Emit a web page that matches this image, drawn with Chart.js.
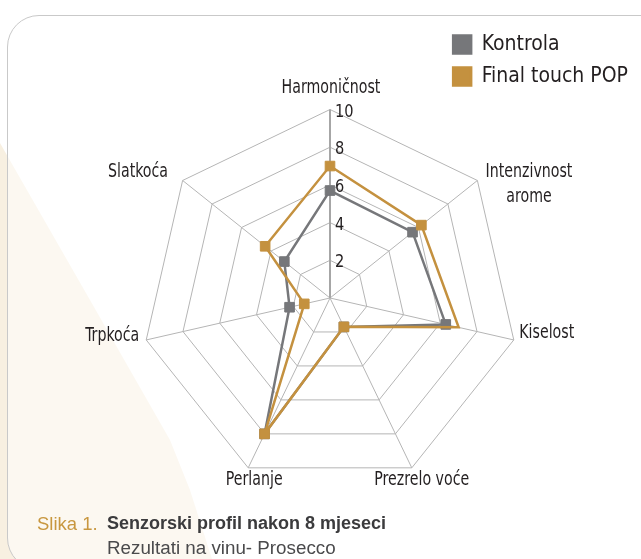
<!DOCTYPE html>
<html><head><meta charset="utf-8">
<script src="https://cdn.jsdelivr.net/npm/chart.js@4.4.0/dist/chart.umd.min.js"></script>
<style>
html,body{margin:0;padding:0;background:#fff;}
#wrap{position:relative;width:641px;height:559px;overflow:hidden;}
#beige{position:absolute;left:0;top:0;width:641px;height:559px;background:#f8f0e1;
  clip-path:polygon(0 143px,90px 300px,170px 440px,190px 490px,212px 559px,0 559px);}
#box{position:absolute;left:7px;top:15px;width:700px;height:555px;border:1.5px solid #c9c9c9;border-radius:32px;background:rgba(255,255,255,0.55);box-sizing:border-box;}
canvas{position:absolute;left:0;top:0;}
.cap{position:absolute;font-family:"Liberation Sans",Arial,sans-serif;font-size:18px;line-height:21px;white-space:nowrap;}
</style></head>
<body>
<div id="wrap">
  <div id="beige"></div>
  <div id="box"></div>
  <canvas id="c" width="641" height="559"></canvas>
  <span class="cap" style="left:37px;top:513px;color:#c8973f;font-size:18.5px;">Slika 1.</span>
  <span class="cap" style="left:107px;top:513px;color:#3b3b3d;font-weight:bold;">Senzorski profil nakon 8 mjeseci</span>
  <span class="cap" style="left:107px;top:537px;color:#4a4a4c;font-size:18.8px;">Rezultati na vinu- Prosecco</span>
</div>
<script>
const categories = ['Harmoničnost', ['Intenzivnost', 'arome'], 'Kiselost', 'Prezrelo voće', 'Perlanje', 'Trpkoća', 'Slatkoća'];
const seriesNames = ['Kontrola', 'Final touch POP'];
const kontrola = [5.7, 5.6, 6.3, 1.7, 8.0, 2.2, 3.1];
const finalTouchPop = [7.0, 6.2, 7.0, 1.7, 8.0, 1.4, 4.4];
const tickValues = [0, 2, 4, 6, 8, 10];

const FONT_NARROW = '"DejaVu Sans Condensed", "DejaVu Sans", sans-serif';
const GRAY = '#76777a';
const GOLD = '#c4913f';
const labelOffsets = [[1, -21.5], [51.6, 4], [33, -7], [10, 12.7], [6, 12.7], [-34, -4], [-44.6, -8.5]];

const radarText = {
  id: 'radarText',
  beforeDatasetsDraw(chart) {
    const s = chart.scales.r, ctx = chart.ctx;
    ctx.save();
    ctx.font = '18px ' + FONT_NARROW;
    ctx.fillStyle = '#231f20';
    ctx.textAlign = 'left';
    ctx.textBaseline = 'middle';
    s.ticks.forEach(t => {
      if (t.value <= 0) return;
      const p = s.getPointPosition(0, s.getDistanceFromCenterForValue(t.value));
      ctx.save();
      ctx.translate(p.x + 5, p.y + 2.5);
      ctx.scale(0.9, 1);
      ctx.fillText(String(t.value), 0, 0);
      ctx.restore();
    });
    ctx.restore();
  },
  afterDraw(chart) {
    const s = chart.scales.r, ctx = chart.ctx;
    ctx.save();
    ctx.font = '19px ' + FONT_NARROW;
    ctx.fillStyle = '#231f20';
    ctx.textAlign = 'center';
    ctx.textBaseline = 'middle';
    const lh = 25;
    chart.data.labels.forEach((lab, i) => {
      const p = s.getPointPosition(i, s.drawingArea);
      const lines = Array.isArray(lab) ? lab : [lab];
      const x = p.x + labelOffsets[i][0];
      const y0 = p.y + labelOffsets[i][1] - (lines.length - 1) * lh / 2;
      lines.forEach((ln, k) => {
        ctx.save();
        ctx.translate(x, y0 + k * lh);
        ctx.scale(0.83, 1);
        ctx.fillText(ln, 0, 0);
        ctx.restore();
      });
    });
    ctx.restore();
  }
};

new Chart(document.getElementById('c'), {
  type: 'radar',
  data: {
    labels: categories,
    datasets: [
      { label: seriesNames[0], data: kontrola, order: 1, borderColor: GRAY, backgroundColor: GRAY,
        borderWidth: 2.5, fill: false, pointStyle: 'rect', pointRadius: 6.8, pointBorderWidth: 1,
        pointBackgroundColor: GRAY, pointBorderColor: GRAY },
      { label: seriesNames[1], data: finalTouchPop, order: 0, borderColor: GOLD, backgroundColor: GOLD,
        borderWidth: 2.5, fill: false, pointStyle: 'rect', pointRadius: 6.8, pointBorderWidth: 1,
        pointBackgroundColor: GOLD, pointBorderColor: GOLD }
    ]
  },
  options: {
    responsive: false,
    animation: false,
    devicePixelRatio: 1,
    layout: { padding: { top: 23, right: 3, left: 0, bottom: 0 } },
    plugins: {
      legend: {
        position: 'right', align: 'start', reverse: true,
        labels: { boxWidth: 18, boxHeight: 18, padding: 11, color: '#231f20',
          font: { family: FONT_NARROW, size: 21 } }
      },
      tooltip: { enabled: false }
    },
    scales: {
      r: {
        min: 0, max: 10,
        ticks: { display: false, stepSize: 2 },
        afterBuildTicks(s) { s.ticks = tickValues.map(v => ({ value: v })); },
        pointLabels: { display: false },
        grid: { color: '#b5b5b5', lineWidth: 1 },
        angleLines: {
          color: c => c.index === 0 ? '#a6a6a6' : '#b5b5b5',
          lineWidth: c => c.index === 0 ? 2 : 1
        },
        afterFit(s) { s.xCenter = 330; s.yCenter = 298; s.drawingArea = 188.5; }
      }
    }
  },
  plugins: [radarText]
});
</script>
</body></html>
